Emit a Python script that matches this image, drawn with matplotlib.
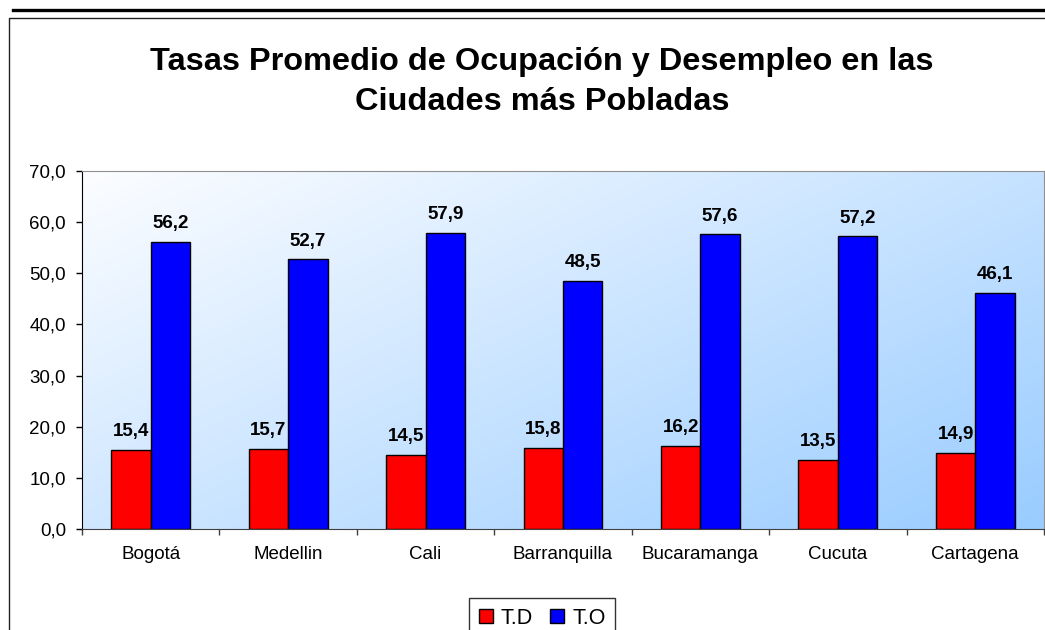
import numpy as np
import matplotlib
matplotlib.use("Agg")
import matplotlib.pyplot as plt
from matplotlib.lines import Line2D
from matplotlib.patches import Patch

plt.rcParams['font.family'] = ['Liberation Sans', 'DejaVu Sans']

ciudades = ["Bogotá", "Medellin", "Cali", "Barranquilla", "Bucaramanga", "Cucuta", "Cartagena"]
td = [15.4, 15.7, 14.5, 15.8, 16.2, 13.5, 14.9]
to = [56.2, 52.7, 57.9, 48.5, 57.6, 57.2, 46.1]
titulo = "Tasas Promedio de Ocupación y Desempleo en las\nCiudades más Pobladas"


def fmt(v):
    return f"{v:.1f}".replace(".", ",")


fig = plt.figure(figsize=(10.45, 6.3), dpi=100)
ax = fig.add_axes([82 / 1045, 1 - 529 / 630, 962 / 1045, 358 / 630])

# fondo degradado del area de trazado
nx, ny = 200, 120
u = np.linspace(0, 1, nx)[None, :]
v = np.linspace(0, 1, ny)[:, None]
t = np.clip(0.55 * u + 0.45 * v, 0, 1)
c0 = np.array([252, 253, 255]) / 255
c1 = np.array([153, 204, 255]) / 255
grad = c0[None, None, :] * (1 - t[..., None]) + c1[None, None, :] * t[..., None]
ax.imshow(grad, extent=[-0.5, 6.5, 0, 70], aspect='auto', origin='upper', zorder=0)

x = np.arange(len(ciudades))
w = 0.287
b1 = ax.bar(x - w / 2, td, w, color='#FF0000', edgecolor='black', linewidth=1, zorder=2, label='T.D')
b2 = ax.bar(x + w / 2, to, w, color='#0000FF', edgecolor='black', linewidth=1, zorder=2, label='T.O')

for bars, vals in [(b1, td), (b2, to)]:
    for r, val in zip(bars, vals):
        ax.annotate(fmt(val), (r.get_x() + r.get_width() / 2, r.get_height()),
                    xytext=(0, 10), textcoords='offset points', ha='center', va='baseline',
                    fontsize=13.5, fontweight='bold', zorder=3)

ax.set_xlim(-0.5, 6.5)
ax.set_ylim(0, 70)
ax.set_yticks(np.arange(0, 71, 10))
ax.set_yticklabels([fmt(v) for v in np.arange(0, 71, 10)])
ax.tick_params(axis='y', direction='out', length=4.5, width=1, pad=7, labelsize=13.5)
ax.set_xticks(x)
ax.set_xticklabels(ciudades)
ax.tick_params(axis='x', which='major', length=0, pad=12, labelsize=13.5)
ax.set_xticks(np.arange(-0.5, 7, 1), minor=True)
ax.tick_params(axis='x', which='minor', direction='out', length=4, width=1, color='#404040')

ax.spines['left'].set_color('black')
ax.spines['bottom'].set_color('#404040')
ax.spines['top'].set_color('#909090')
ax.spines['right'].set_color('#909090')

fig.text(542 / 1045, 1 - 82 / 630, titulo, ha='center', va='center', fontsize=23.4,
         fontweight='bold', linespacing=1.42)

leg = fig.legend(handles=[Patch(facecolor='#FF0000', edgecolor='black', label='T.D'),
                          Patch(facecolor='#0000FF', edgecolor='black', label='T.O')],
                 loc='upper center', bbox_to_anchor=(542 / 1045, 1 - 598 / 630), ncol=2,
                 fontsize=15.5, frameon=True, fancybox=False, edgecolor='black',
                 handlelength=0.65, handleheight=0.65, handletextpad=0.37,
                 columnspacing=0.8, borderpad=0.45, borderaxespad=0)
leg.get_frame().set_linewidth(1)

# marco del grafico
fig.add_artist(Line2D([13 / 1045, 1], [1 - 10 / 630, 1 - 10 / 630], color='black', linewidth=2.4))
fig.add_artist(Line2D([8.5 / 1045, 8.5 / 1045, 1], [0, 1 - 17.5 / 630, 1 - 17.5 / 630],
                      color='#202020', linewidth=1))

fig.savefig("out.png", dpi=100)
